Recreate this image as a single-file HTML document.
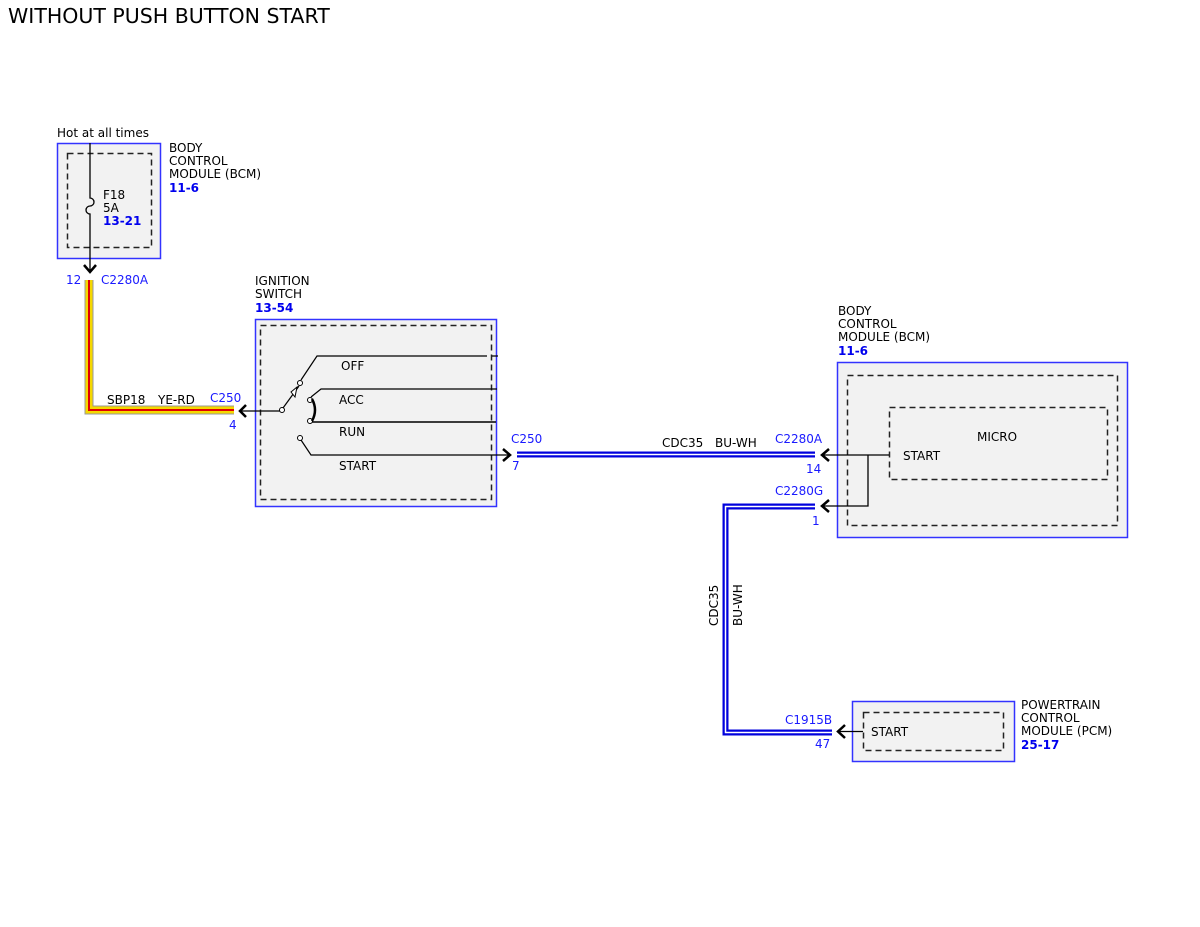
<!DOCTYPE html>
<html><head><style>
body{margin:0;background:#fff}
svg{display:block}
text{font-family:"DejaVu Sans","Liberation Sans",sans-serif;font-size:12px;fill:#000}
.b{fill:#1a1aff}
.bb{fill:#0000ee;font-weight:bold}
.d{fill:none;stroke:#222;stroke-width:1.5;stroke-dasharray:6,4}
.a{fill:none;stroke:#000;stroke-width:2.5}
</style></head><body>
<svg width="1200" height="927" viewBox="0 0 1200 927" xmlns="http://www.w3.org/2000/svg">
<text x="8" y="23" style="font-size:20.5px">WITHOUT PUSH BUTTON START</text>

<!-- BCM top-left -->
<rect x="57.5" y="143.5" width="103" height="115" fill="#f2f2f2" stroke="#3333ff" stroke-width="1.5"/>
<rect x="67.5" y="153.5" width="84" height="94" class="d"/>
<text x="57" y="137">Hot at all times</text>
<text x="169" y="152">BODY</text><text x="169" y="165">CONTROL</text><text x="169" y="178">MODULE (BCM)</text>
<text x="169" y="192" class="bb">11-6</text>
<path d="M90 143 V198 A4 4 0 0 1 90 206 A4 4 0 0 0 90 214 V272" fill="none" stroke="#000" stroke-width="1.3"/>
<path d="M84 265 L90 272 L96 265" class="a"/>
<text x="103" y="199">F18</text><text x="103" y="212">5A</text><text x="103" y="225" class="bb">13-21</text>
<text x="66" y="284" class="b">12</text><text x="101" y="284" class="b">C2280A</text>

<!-- yellow wire -->
<path d="M89 280 V410 H234" fill="none" stroke="#999" stroke-width="9"/>
<path d="M89 280 V410 H234" fill="none" stroke="#f5d800" stroke-width="7"/>
<path d="M89 280 V410 H234" fill="none" stroke="#e00000" stroke-width="2"/>
<text x="107" y="404">SBP18</text><text x="158" y="404">YE-RD</text>
<text x="210" y="402" class="b">C250</text><text x="229" y="429" class="b">4</text>

<!-- Ignition switch -->
<text x="255" y="285">IGNITION</text><text x="255" y="298">SWITCH</text><text x="255" y="312" class="bb">13-54</text>
<rect x="255.5" y="319.5" width="241" height="187" fill="#f2f2f2" stroke="#3333ff" stroke-width="1.5"/>
<rect x="260.5" y="325.5" width="231" height="174" class="d"/>
<path d="M240 411 H281" stroke="#000" stroke-width="1.3"/>
<path d="M246 405 L240 411 L246 417" class="a"/>
<circle cx="282" cy="410" r="2.5" fill="#fff" stroke="#000"/>
<path d="M283 408 L299 386" stroke="#000" stroke-width="1.2"/>
<path d="M291 392 L297 387 L295 397 Z" fill="#fff" stroke="#000"/>
<circle cx="300" cy="383" r="2.5" fill="#fff" stroke="#000"/>
<path d="M301 380 L317 356 H487 M492 356 H498" fill="none" stroke="#000" stroke-width="1.2"/>
<circle cx="310" cy="400" r="2.5" fill="#fff" stroke="#000"/>
<circle cx="310" cy="421" r="2.5" fill="#fff" stroke="#000"/>
<path d="M312 399 Q318 410 312 421" fill="none" stroke="#000" stroke-width="2.5"/>
<path d="M311 397 L321 389 H497" fill="none" stroke="#000" stroke-width="1.2"/>
<path d="M312 422 H496" stroke="#000" stroke-width="1.5"/>
<circle cx="300" cy="438" r="2.5" fill="#fff" stroke="#000"/>
<path d="M301 440 L311 455 H510" fill="none" stroke="#000" stroke-width="1.2"/>
<path d="M503 449 L510 455 L503 461" class="a"/>
<text x="341" y="370">OFF</text><text x="339" y="404">ACC</text><text x="339" y="436">RUN</text><text x="339" y="470">START</text>

<!-- blue wire 1 -->
<path d="M517 454.5 H815" stroke="#0000dd" stroke-width="6"/>
<path d="M517 454.5 H815" stroke="#fff" stroke-width="1.5"/>
<text x="511" y="443" class="b">C250</text><text x="512" y="470" class="b">7</text>
<text x="662" y="447">CDC35</text><text x="715" y="447">BU-WH</text>
<text x="775" y="443" class="b">C2280A</text><text x="806" y="473" class="b">14</text>

<!-- BCM right -->
<text x="838" y="315">BODY</text><text x="838" y="328">CONTROL</text><text x="838" y="341">MODULE (BCM)</text>
<text x="838" y="355" class="bb">11-6</text>
<rect x="837.5" y="362.5" width="290" height="175" fill="#f2f2f2" stroke="#3333ff" stroke-width="1.5"/>
<rect x="847.5" y="375.5" width="270" height="150" class="d"/>
<rect x="889.5" y="407.5" width="218" height="72" class="d"/>
<text x="977" y="441">MICRO</text><text x="903" y="460">START</text>
<path d="M822 455 H889 M868 455 V506 H822" fill="none" stroke="#000" stroke-width="1.3"/>
<path d="M829 449 L822 455 L829 461 M829 500 L822 506 L829 512" class="a"/>

<!-- blue wire 2 -->
<path d="M815 506.5 H725.5 V732.5 H832" fill="none" stroke="#0000dd" stroke-width="6"/>
<path d="M815 506.5 H725.5 V732.5 H832" fill="none" stroke="#fff" stroke-width="1.5"/>
<text x="775" y="495" class="b">C2280G</text><text x="812" y="525" class="b">1</text>
<text transform="translate(718,626) rotate(-90)">CDC35</text>
<text transform="translate(742,626) rotate(-90)">BU-WH</text>
<text x="785" y="724" class="b">C1915B</text><text x="815" y="748" class="b">47</text>

<!-- PCM -->
<rect x="852.5" y="701.5" width="162" height="60" fill="#f2f2f2" stroke="#3333ff" stroke-width="1.5"/>
<rect x="863.5" y="712.5" width="140" height="38" class="d"/>
<path d="M838 731.5 H863" stroke="#000" stroke-width="1.3"/>
<path d="M845 725 L838 731.5 L845 738" class="a"/>
<text x="871" y="736">START</text>
<text x="1021" y="709">POWERTRAIN</text><text x="1021" y="722">CONTROL</text><text x="1021" y="735">MODULE (PCM)</text>
<text x="1021" y="749" class="bb">25-17</text>
</svg>
</body></html>
